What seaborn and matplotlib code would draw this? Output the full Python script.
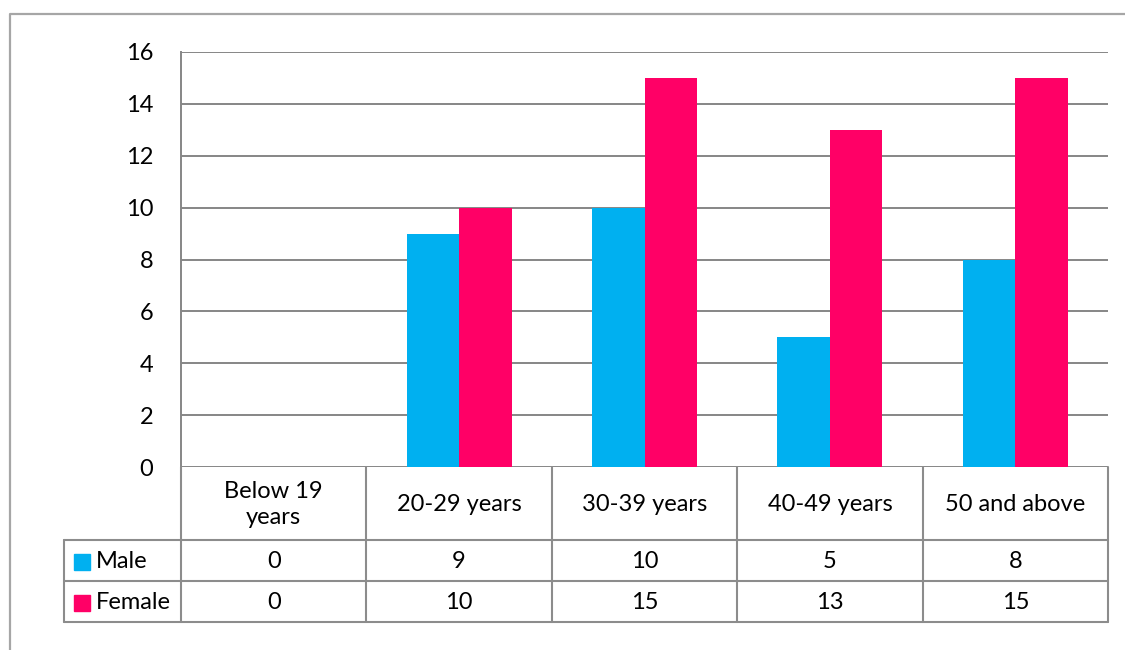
import matplotlib
matplotlib.use("Agg")
import matplotlib.pyplot as plt
import seaborn as sns
import pandas as pd
from matplotlib.lines import Line2D
from matplotlib.patches import Rectangle

# ---- data ----
categories = ["Below 19\nyears", "20-29 years", "30-39 years", "40-49 years", "50 and above"]
series_names = ["Male", "Female"]
male = [0, 9, 10, 5, 8]
female = [0, 10, 15, 13, 15]
colors = ["#00B0F0", "#FF0066"]
yticks = [0, 2, 4, 6, 8, 10, 12, 14, 16]

W, H = 1125, 650
sns.set_theme(style="white")
plt.rcParams['font.family'] = ['Lato', 'DejaVu Sans']
FS = 17
fig = plt.figure(figsize=(W / 100, H / 100), dpi=100)


def fx(x):
    return x / W


def fy(y):
    return 1 - y / H


left, right, top, bottom = 181, 1108, 52, 467
ax = fig.add_axes([fx(left), fy(bottom), (right - left) / W, (bottom - top) / H])

df = pd.DataFrame({
    "Age": categories * 2,
    "Gender": [series_names[0]] * len(categories) + [series_names[1]] * len(categories),
    "Count": male + female,
})
sns.barplot(data=df, x="Age", y="Count", hue="Gender", hue_order=series_names,
            order=categories, palette=colors, width=0.567, gap=0, saturation=1,
            ax=ax, legend=False, edgecolor="none", linewidth=0)

ax.set_xlim(-0.5, len(categories) - 0.5)
ax.set_ylim(0, 16)
ax.set_yticks(yticks)
ax.yaxis.grid(True, color="#868686", lw=1.4)
ax.xaxis.grid(False)
ax.set_axisbelow(True)
ax.set_xticks([])
ax.set_xlabel("")
ax.set_ylabel("")
for s in ["top", "right", "bottom"]:
    ax.spines[s].set_visible(False)
ax.spines["left"].set_color("#868686")
ax.spines["left"].set_linewidth(1.4)
ax.tick_params(axis="y", length=0, pad=20, labelsize=FS, labelcolor="black")

# ---- data table ----
lc = "#8c8c8c"
lw = 1.5


def hline(y, x0, x1):
    fig.add_artist(Line2D([fx(x0), fx(x1)], [fy(y), fy(y)], color=lc, lw=lw))


def vline(x, y0, y1):
    fig.add_artist(Line2D([fx(x), fx(x)], [fy(y0), fy(y1)], color=lc, lw=lw))


row_tops = [540, 581, 622]
tbl_left = 64
ncat = len(categories)
colw = (right - left) / ncat
for i in range(ncat + 1):
    vline(left + i * colw, bottom, row_tops[-1])
for y in row_tops:
    hline(y, tbl_left, right)
vline(tbl_left, row_tops[0], row_tops[-1])

for i, cat in enumerate(categories):
    cx = left + (i + 0.5) * colw
    fig.text(fx(cx), fy((bottom + row_tops[0]) / 2 + 1), cat, ha="center", va="center",
             fontsize=FS, linespacing=1.25, color="black")

for r, (name, vals, col) in enumerate(zip(series_names, [male, female], colors)):
    y0, y1 = row_tops[r], row_tops[r + 1]
    cy = (y0 + y1) / 2 + 1
    fig.add_artist(Rectangle((fx(74), fy(cy + 8)), 16 / W, 16 / H, color=col,
                             transform=fig.transFigure))
    fig.text(fx(96), fy(cy), name, ha="left", va="center", fontsize=FS, color="black")
    for i, v in enumerate(vals):
        cx = left + (i + 0.5) * colw
        fig.text(fx(cx), fy(cy), str(v), ha="center", va="center", fontsize=FS, color="black")

# outer chart frame (extends beyond image on right and bottom)
fig.add_artist(Line2D([fx(10), fx(10), fx(W + 5)], [fy(H + 5), fy(14), fy(14)],
                      color="#a6a6a6", lw=1.6))

fig.savefig("out.png", dpi=100, facecolor="white")
